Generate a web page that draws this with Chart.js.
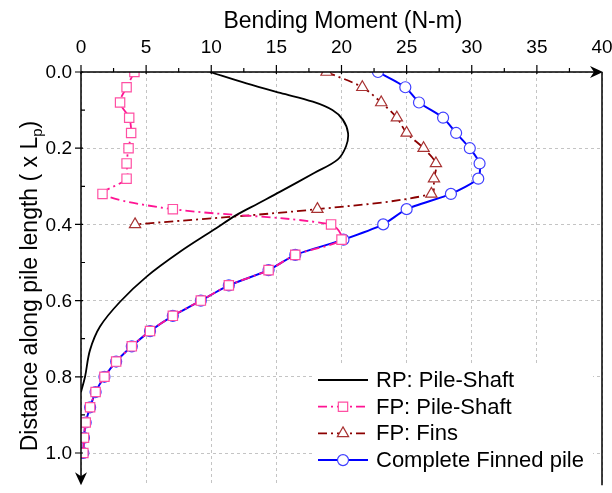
<!DOCTYPE html>
<html lang="en">
<head>
<meta charset="UTF-8">
<title>Bending Moment along Pile</title>
<script src="https://cdn.jsdelivr.net/npm/chart.js@4.4.1/dist/chart.umd.min.js"></script>
<style>
  html, body { margin: 0; padding: 0; background: #fff; }
  #wrap { width: 612px; height: 493px; }
</style>
</head>
<body>
<div id="wrap"><canvas id="momentChart" width="612" height="493"></canvas></div>
<script>
// depth (fraction of pile length) for the marked series
var depthFull = [0, 0.04, 0.08, 0.12, 0.16, 0.20, 0.24, 0.28, 0.32, 0.36, 0.40, 0.44, 0.48,
                 0.52, 0.56, 0.60, 0.64, 0.68, 0.72, 0.76, 0.80, 0.84, 0.88, 0.92, 0.96, 1.00];
var depthFins = [0, 0.04, 0.08, 0.12, 0.16, 0.20, 0.24, 0.28, 0.32, 0.36, 0.40];

// bending moment (N-m)
var finnedTotal = [22.8, 24.9, 25.95, 27.8, 28.8, 29.85, 30.6, 30.5, 28.4, 25.0, 23.2, 20.15, 16.45,
                   14.4, 11.35, 9.2, 7.05, 5.3, 3.9, 2.7, 1.8, 1.12, 0.7, 0.36, 0.23, 0.18];
var finnedShaft = [4.1, 3.5, 3.0, 3.7, 3.85, 3.65, 3.5, 3.5, 1.65, 7.05, 19.2, 20.0, 16.45,
                   14.4, 11.35, 9.2, 7.05, 5.3, 3.9, 2.7, 1.8, 1.12, 0.7, 0.36, 0.23, 0.18];
var finsMoment = [18.85, 21.6, 23.05, 24.25, 25.0, 26.3, 27.25, 27.1, 26.9, 18.15, 4.15];

// regular pile, continuous curve
var rpDepth  = [0, 0.03, 0.055, 0.078, 0.10, 0.125, 0.16, 0.195, 0.23, 0.265, 0.314, 0.345,
                0.375, 0.415, 0.472, 0.537, 0.603, 0.668, 0.73, 0.80, 0.84];
var rpMoment = [9.9, 12.7, 15.3, 17.8, 19.3, 20.1, 20.5, 20.35, 19.7, 17.9, 15.3, 13.6,
                11.95, 10.16, 7.6, 5.04, 3.0, 1.46, 0.69, 0.31, 0.0];

var xTicks = [0, 5, 10, 15, 20, 25, 30, 35, 40];
var yTicks = [0, 0.2, 0.4, 0.6, 0.8, 1.0];

var FONT = '"Liberation Sans", Arial, sans-serif';
var dashDot = [9, 4, 2, 4];
var PX_PER_DEPTH = 381;   // pixels for one pile length

function pts(xs, ys) {
    return xs.map(function (v, i) { return { x: v, y: ys[i] }; });
}

var series = [
    { label: 'RP: Pile-Shaft', data: pts(rpMoment, rpDepth), color: '#000000', marker: '#000000',
      style: false, radius: 0, dash: [], width: 1.8, tension: 0.35 },
    { label: 'FP: Pile-Shaft', data: pts(finnedShaft, depthFull), color: '#ff1493', marker: '#ff4fa3',
      style: 'rect', radius: 6.6, dash: dashDot, width: 1.8, tension: 0.3 },
    { label: 'FP: Fins', data: pts(finsMoment, depthFins), color: '#8b0000', marker: '#a83232',
      style: 'triangle', radius: 6.5, dash: dashDot, width: 1.8, tension: 0.3 },
    { label: 'Complete Finned pile', data: pts(finnedTotal, depthFull), color: '#0000ff', marker: '#4040ff',
      style: 'circle', radius: 5.5, dash: [], width: 2, tension: 0.2 }
];

// keep the plot box fixed: labels may hang past the edges
function noScalePadding(scale) {
    scale.paddingLeft = 0;
    scale.paddingRight = 0;
    scale.paddingTop = 0;
    scale.paddingBottom = 0;
}

// axes with arrows, tick marks, depth labels, titles and the boxed legend
var decor = {
    id: 'decor',
    afterDatasetsDraw: function (chart) {
        var ctx = chart.ctx, a = chart.chartArea, sx = chart.scales.x, sy = chart.scales.y;
        ctx.save();

        // legend
        ctx.fillStyle = '#fff';
        ctx.fillRect(315, 363, 278, a.bottom - 363);
        series.forEach(function (s, i) {
            var ly = 380 + i * 26.7;
            ctx.strokeStyle = s.color;
            ctx.lineWidth = s.width;
            ctx.setLineDash(s.dash);
            ctx.beginPath();
            ctx.moveTo(318, ly);
            ctx.lineTo(368, ly);
            ctx.stroke();
            ctx.setLineDash([]);
            if (s.style) {
                ctx.fillStyle = '#fff';
                ctx.strokeStyle = s.marker;
                ctx.lineWidth = 1.2;
                Chart.helpers.drawPoint(ctx, { pointStyle: s.style, radius: s.radius, borderWidth: 1.2, rotation: 0 }, 343, ly);
            }
            ctx.fillStyle = '#000';
            ctx.font = '22px ' + FONT;
            ctx.textBaseline = 'middle';
            ctx.textAlign = 'left';
            ctx.fillText(s.label, 376, ly + 1);
        });

        ctx.strokeStyle = '#000';
        ctx.fillStyle = '#000';
        ctx.lineWidth = 1.5;
        ctx.setLineDash([]);

        // top axis, left axis, right frame
        ctx.beginPath();
        ctx.moveTo(a.left, a.top); ctx.lineTo(a.right - 4, a.top);
        ctx.moveTo(a.left, a.top); ctx.lineTo(a.left, a.bottom - 4);
        ctx.moveTo(a.right, a.top); ctx.lineTo(a.right, a.bottom);
        ctx.stroke();

        // arrow heads
        ctx.beginPath();
        ctx.moveTo(a.right + 1, a.top);
        ctx.lineTo(a.right - 12, a.top - 6);
        ctx.lineTo(a.right - 8, a.top);
        ctx.lineTo(a.right - 12, a.top + 6);
        ctx.closePath();
        ctx.fill();
        ctx.beginPath();
        ctx.moveTo(a.left, a.bottom);
        ctx.lineTo(a.left - 6, a.bottom - 13);
        ctx.lineTo(a.left, a.bottom - 9);
        ctx.lineTo(a.left + 6, a.bottom - 13);
        ctx.closePath();
        ctx.fill();

        // tick marks
        ctx.lineWidth = 1.2;
        ctx.beginPath();
        for (var v = 0; v <= 37.5; v += 2.5) {
            var px = sx.getPixelForValue(v);
            var major = v % 5 === 0;
            ctx.moveTo(px, a.top - (major ? 7 : 4));
            ctx.lineTo(px, a.top + (major ? 2 : 0));
        }
        for (var k = 0; k <= 10; k++) {
            var py = sy.getPixelForValue(k / 10);
            var maj = k % 2 === 0;
            ctx.moveTo(a.left - (maj ? 6 : 0), py);
            ctx.lineTo(a.left + (maj ? 2 : 4), py);
        }
        ctx.stroke();

        // depth tick labels
        ctx.font = '19px ' + FONT;
        ctx.textAlign = 'right';
        ctx.textBaseline = 'middle';
        yTicks.forEach(function (t) {
            ctx.fillText(t.toFixed(1), a.left - 9, sy.getPixelForValue(t) + 1);
        });

        // axis titles
        ctx.font = '23px ' + FONT;
        ctx.textAlign = 'center';
        ctx.textBaseline = 'alphabetic';
        ctx.fillText('Bending Moment (N-m)', 343, 28);

        ctx.translate(37, 286);
        ctx.rotate(-Math.PI / 2);
        var main = 'Distance along pile length ( x L', sub = 'p', tail = ')';
        ctx.font = '23px ' + FONT;
        var w1 = ctx.measureText(main).width, w3 = ctx.measureText(tail).width;
        ctx.font = '15px ' + FONT;
        var w2 = ctx.measureText(sub).width;
        var x0 = -(w1 + w2 + w3) / 2;
        ctx.textAlign = 'left';
        ctx.font = '23px ' + FONT;
        ctx.fillText(main, x0, 0);
        ctx.font = '15px ' + FONT;
        ctx.fillText(sub, x0 + w1, 5);
        ctx.font = '23px ' + FONT;
        ctx.fillText(tail, x0 + w1 + w2, 0);

        ctx.restore();
    }
};

var myChart = new Chart(document.getElementById('momentChart'), {
    type: 'scatter',
    data: {
        datasets: series.map(function (s) {
            return {
                label: s.label,
                data: s.data,
                showLine: true,
                borderColor: s.color,
                borderWidth: s.width,
                borderDash: s.dash,
                tension: s.tension,
                pointStyle: s.style,
                pointRadius: s.radius,
                pointBorderColor: s.marker,
                pointBackgroundColor: '#fff',
                pointBorderWidth: 1.2,
                pointHoverRadius: s.radius
            };
        })
    },
    options: {
        responsive: false,
        animation: false,
        layout: { padding: { left: 0, top: 0, right: 10, bottom: 2 } },
        plugins: { legend: { display: false }, tooltip: { enabled: false } },
        scales: {
            x: {
                type: 'linear',
                position: 'top',
                min: 0,
                max: 40,
                afterFit: function (scale) { scale.height = 72; noScalePadding(scale); },
                afterBuildTicks: function (scale) {
                    scale.ticks = xTicks.map(function (v) { return { value: v }; });
                },
                ticks: { color: '#000', font: { size: 19, family: FONT }, padding: 13 },
                grid: { color: '#c4c4c4', lineWidth: 1, drawTicks: false },
                border: { display: false, dash: [3, 3] }
            },
            y: {
                type: 'linear',
                min: 0,
                max: 1.1,
                reverse: true,
                afterFit: function (scale) { scale.width = 81; noScalePadding(scale); },
                afterBuildTicks: function (scale) {
                    scale.ticks = yTicks.map(function (v) { return { value: v }; });
                },
                ticks: { display: false },
                grid: { color: '#c4c4c4', lineWidth: 1, drawTicks: false },
                border: { display: false, dash: [3, 3] }
            }
        }
    },
    plugins: [decor]
});

// stretch the depth axis so one pile length spans PX_PER_DEPTH pixels
var area = myChart.chartArea;
myChart.options.scales.y.max = (area.bottom - area.top) / PX_PER_DEPTH;
myChart.update();
</script>
</body>
</html>
